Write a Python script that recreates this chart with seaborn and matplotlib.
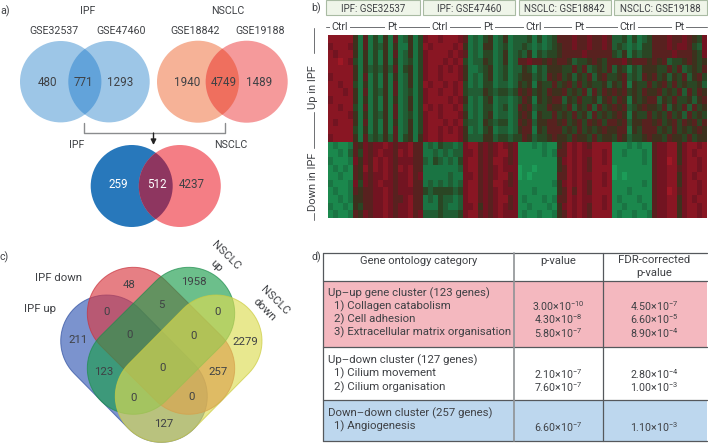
import numpy as np
import matplotlib
matplotlib.use('Agg')
import matplotlib.pyplot as plt
from matplotlib.colors import LinearSegmentedColormap
from matplotlib.patches import Circle, Polygon, Rectangle
import seaborn as sns

sns.set_theme(style='white')
plt.rcParams['font.family'] = ['Roboto', 'DejaVu Sans']
plt.rcParams['mathtext.fontset'] = 'custom'
plt.rcParams['mathtext.rm'] = 'Roboto'
plt.rcParams['mathtext.default'] = 'rm'

TXT = '#3f4145'

# panel a
ipf_sets = ['GSE32537', 'GSE47460']
nsclc_sets = ['GSE18842', 'GSE19188']
ipf_counts = ['480', '771', '1293']
nsclc_counts = ['1940', '4749', '1489']
merged_counts = ['259', '512', '4237']

# panel b, one digit per cell: 0 bright green, 4-5 near black, 9 bright red
up_rows = [
    "88888 52624252623524 78878887 62324523523 33424234 66676676676 33424234 66676676547",
    "78887 52624352522524 87888878 52325523423 34323234 56676676676 34323244 66676776437",
    "87888 52524252623524 78888787 62324423523 43524344 56666766666 43524344 66667666547",
    "88987 42524252523424 78887878 42335423523 66766565 66534456546 66756665 65634456545",
    "88888 52534353624524 78878787 52234523423 35424355 54464634546 35424355 54464634546",
    "78888 52624252523524 78878887 52324523423 45534365 64535463564 45634365 64535463564",
    "88788 42524252623524 87887878 42324423323 54525446 45646454453 54625446 45646454453",
    "88878 52624352623424 78878878 43335434434 65645465 56454636465 65645465 56454636465",
    "78888 52524252523524 78888787 52324523323 46525456 63546445356 46525456 63546445356",
    "88788 42624252623524 87878878 42324423423 65634465 54635463645 65634565 54635463645",
    "88887 52524352623424 78878887 52324523323 56525446 45464536454 56525446 45464536454",
    "87888 52624252523524 78887878 43325434423 65635566 56456465646 65635566 56456465646",
    "88888 42524252623524 78878787 52324523323 56625466 64546454565 56625466 64546454565",
    "78888 52634353624525 78878887 53335534434 46534456 55465546455 46534456 55465546455",
]
down_rows = [
    "12112 65767787677866 23243323 78867678767 11121211 56878768888 11121211 67788578878",
    "11213 64767877687866 22323233 77867678867 11111212 66878778878 11211121 67788578788",
    "21112 75768787677766 32432324 78867688767 11111111 57878768878 11111121 67798578878",
    "12121 65868787687866 22222223 78867678777 01101111 56878768888 01111111 67788678878",
    "11211 65767787677867 22222322 77867678867 01011111 66878778878 01011111 67788578788",
    "21112 74767877677866 23232323 78867688767 11111112 57878768878 11111121 67788578878",
    "12112 65667787677766 43444434 78867678777 11121111 56868768888 11121111 67798678878",
    "11212 55667787667866 23243323 78867678867 12111212 66878778878 12111211 67788578788",
    "21121 54667787677866 22243223 77857678767 11211121 57878768878 11211121 67788578878",
    "12112 65767787677867 33343334 78867678777 12112112 56878768888 12112112 67788578878",
]

# panel c
four_labels = ['48', '1958', '0', '5', '0', '211', '0', '0', '2279', '123', '0', '257', '0', '0', '127']

# panel d
table_rows = [
    'Up\u2013up gene cluster (123 genes)',
    '1) Collagen catabolism',
    '2) Cell adhesion',
    '3) Extracellular matrix organisation',
    'Up\u2013down cluster (127 genes)',
    '1) Cilium movement',
    '2) Cilium organisation',
    'Down\u2013down cluster (257 genes)',
    '1) Angiogenesis',
]
p_values = ['', '3.00×10$^{-10}$', '4.30×10$^{-8}$', '5.80×10$^{-7}$', '',
            '2.10×10$^{-7}$', '7.60×10$^{-7}$', '', '6.60×10$^{-7}$']
fdr_values = ['', '4.50×10$^{-7}$', '6.60×10$^{-5}$', '8.90×10$^{-4}$', '',
              '2.80×10$^{-4}$', '1.00×10$^{-3}$', '', '1.10×10$^{-3}$']

fig = plt.figure(figsize=(7.08, 4.44), dpi=100)
ax = fig.add_axes([0, 0, 1, 1])
ax.set_xlim(0, 708)
ax.set_ylim(444, 0)
ax.axis('off')


def label(x, y, s, size=7.7, color=TXT, ha='center', **kw):
    ax.text(x, y, s, fontsize=size, color=color, ha=ha, va='center', **kw)


def venn(x1, x2, y, r, c1, c2, mid):
    a = Circle((x1, y), r, fc=c1, ec='none', zorder=2)
    b = Circle((x2, y), r, fc=c2, ec='none', zorder=2)
    ax.add_patch(a)
    ax.add_patch(b)
    m = Circle((x2, y), r, fc=mid, ec='none', zorder=3)
    ax.add_patch(m)
    m.set_clip_path(Circle((x1, y), r, transform=ax.transData))


def capsule(p, q, r, fc, ec, alpha):
    p = np.array(p, float)
    q = np.array(q, float)
    start = np.arctan2(*(q - p)[::-1]) + np.pi / 2
    t1 = np.linspace(start, start + np.pi, 40)
    t2 = t1 + np.pi
    pts = np.vstack([p + r * np.c_[np.cos(t1), np.sin(t1)],
                     q + r * np.c_[np.cos(t2), np.sin(t2)]])
    ax.add_patch(Polygon(pts, closed=True, fc=matplotlib.colors.to_rgba(fc, alpha),
                         ec=matplotlib.colors.to_rgba(ec, 0.7), lw=0.7, zorder=2))


# a) venn diagrams
label(0, 11, 'a)', ha='left')
label(88, 11, 'IPF')
label(228, 11, 'NSCLC')
label(54, 31, ipf_sets[0])
label(121, 31, ipf_sets[1])
label(195, 31, nsclc_sets[0])
label(260, 31, nsclc_sets[1])
venn(60.7, 109, 81.7, 40.7, '#9dc6e7', '#9dc6e7', '#62a3da')
venn(198, 246.7, 81.7, 41, '#f6b297', '#f59a9b', '#ef6f5e')
venn(131.7, 179.8, 186, 41, '#2878bb', '#f47e85', '#8e3660')
for x, s in zip([48, 83.5, 120], ipf_counts):
    label(x, 82, s, size=8.4)
for x, s in zip([187, 224, 259], nsclc_counts):
    label(x, 82, s, size=8.4)
for x, s, c in zip([118.5, 157, 192], merged_counts, ['white', 'white', TXT]):
    label(x, 184, s, color=c, size=8.4)
ax.plot([83.5, 83.5, 224.5, 224.5], [123, 133.5, 133.5, 123], color='#8a8c8e', lw=1)
ax.annotate('', xy=(153.5, 145), xytext=(153.5, 133),
            arrowprops=dict(arrowstyle='-|>', color='#222222', lw=1, mutation_scale=8, shrinkA=0, shrinkB=0))
label(77, 145, 'IPF')
label(231, 145, 'NSCLC')

# b) heatmap
label(311, 8, 'b)', ha='left')
for (x0, x1), s in zip([(326, 419.5), (422.5, 515), (518.5, 611), (613.5, 707)],
                       ['IPF: GSE32537', 'IPF: GSE47460', 'NSCLC: GSE18842', 'NSCLC: GSE19188']):
    ax.add_patch(Rectangle((x0, 0.5), x1 - x0, 15, fc='#eff5e9', ec='#a9bba3', lw=0.8))
    label((x0 + x1) / 2, 8.5, s, size=7.0)
ax.plot([326, 707], [26.7, 26.7], color='#6d6f72', lw=0.7, zorder=1)
for x, s in zip([340, 392, 440, 488, 534, 579, 628, 679],
                ['Ctrl', 'Pt', 'Ctrl', 'Pt', 'Ctrl', 'Pt', 'Ctrl', 'Pt']):
    label(x, 26.5, s, bbox=dict(fc='white', ec='none', pad=1.6))
ax.plot([313.5, 313.5], [28, 53], color='#6d6f72', lw=0.7)
ax.plot([313.5, 313.5], [112, 148], color='#6d6f72', lw=0.7)
ax.plot([313.5, 313.5], [213, 220], color='#6d6f72', lw=0.7)
label(313.5, 87, 'Up in IPF', rotation=90, size=8)
label(313.5, 182, 'Down in IPF', rotation=90, size=8)

grid = np.array([[int(c) for c in row.replace(' ', '')] for row in up_rows + down_rows])
cmap = LinearSegmentedColormap.from_list('rg', ['#1c9c58', '#1a6e40', '#2f3a1c', '#6c1420', '#a01825'])
hax = fig.add_axes([328 / 708, 1 - 218 / 444, 379 / 708, 183 / 444])
sns.heatmap(grid, ax=hax, cmap=cmap, vmin=0, vmax=9, cbar=False, xticklabels=False, yticklabels=False)

# c) four-way venn
label(0, 257, 'c)', ha='left')
capsule((106.7, 341), (161.3, 396.3), 46, '#3459b5', '#2f4f9f', 0.65)
capsule((133.3, 313.3), (188.7, 368.3), 46, '#da3a43', '#c8323c', 0.65)
capsule((188.7, 313.3), (133.3, 368.3), 46, '#1d9d4d', '#1d8d4d', 0.65)
capsule((216, 341), (161.3, 396.3), 46, '#dcdc53', '#cccc40', 0.65)
xy_four = [(129.3, 285), (194.3, 282.3), (106.3, 312.3), (161.7, 305), (218, 312.3),
           (78.3, 340.3), (129.3, 335), (194, 336), (245, 341.7), (104, 371.7),
           (162.7, 368.3), (218.3, 372.3), (134, 397.7), (191.7, 396.7), (163.3, 423.7)]
for (x, y), s in zip(xy_four, four_labels):
    label(x, y, s, zorder=5, size=8.2)
label(58.5, 277.5, 'IPF down', size=8.2)
label(40, 309, 'IPF up', size=8.2)
label(226, 255.5, 'NSCLC', rotation=-45, rotation_mode='anchor', size=8.2)
label(216.5, 266, 'up', rotation=-45, rotation_mode='anchor', size=8.2)
label(275, 301, 'NSCLC', rotation=-45, rotation_mode='anchor', size=8.2)
label(264.5, 310, 'down', rotation=-45, rotation_mode='anchor', size=8.2)

# d) table
label(311, 257, 'd)', ha='left')
for y0, y1, c in [(281, 346.7, '#f4b8bf'), (346.7, 400, 'white'), (400, 441, '#bdd7ee')]:
    ax.add_patch(Rectangle((323.3, y0), 383.7, y1 - y0, fc=c, ec='none', zorder=1))
for y in [253.3, 281, 346.7, 400, 441]:
    ax.plot([323.3, 707], [y, y], color='#55585c', lw=0.9, zorder=2)
ax.plot([323.3, 323.3], [253.3, 441], color='#55585c', lw=0.9, zorder=2)
ax.plot([513.7, 513.7], [253.3, 441], color='#8f9295', lw=1.2, zorder=2)
ax.plot([603.3, 603.3], [253.3, 441], color='#55585c', lw=0.9, zorder=2)
label(418.7, 261, 'Gene ontology category', size=8)
label(558, 261, 'p-value', size=8.1)
label(654, 260, 'FDR-corrected', size=8.2)
label(654, 273, 'p-value', size=8.1)
row_y = [293.3, 306, 319.3, 332.7, 360.7, 373.7, 387, 413.3, 426.7]
for y, s, p, f in zip(row_y, table_rows, p_values, fdr_values):
    label(333.7 if s[0].isdigit() else 328.3, y, s, ha='left', zorder=3, size=8.2)
    if p:
        label(558, y, p, zorder=3)
        label(654, y, f, zorder=3)

fig.savefig('out.png', dpi=100)
